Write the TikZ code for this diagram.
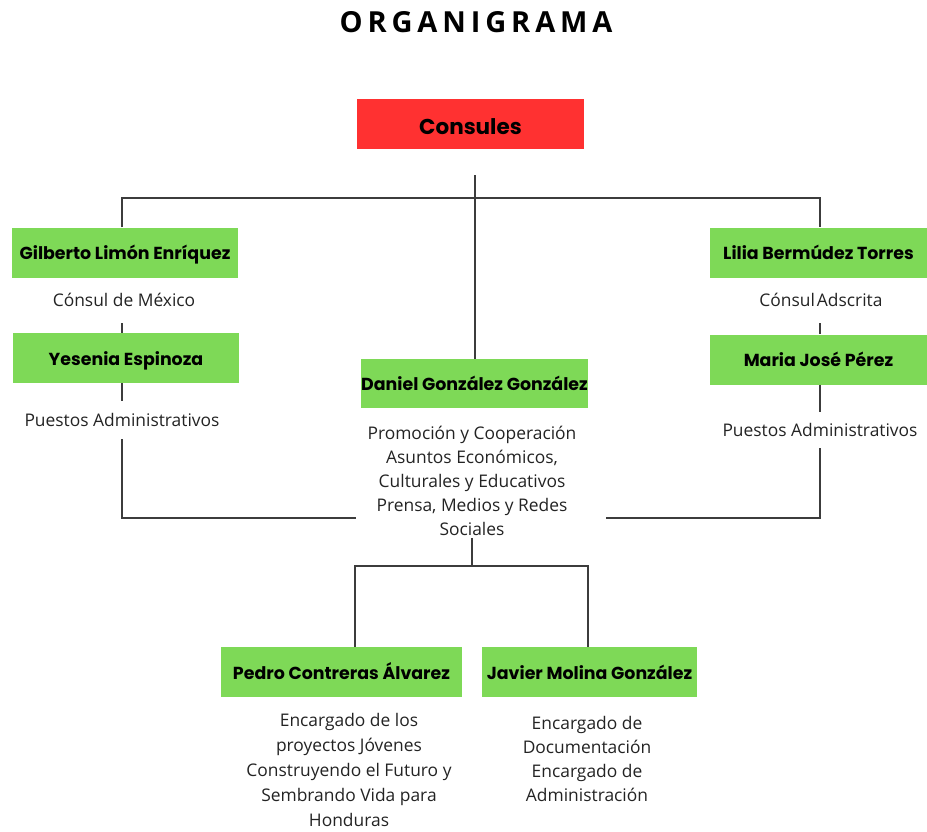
\documentclass[tikz,border=0pt]{standalone}
\usepackage{fontspec}
\setmainfont{Open Sans}
\newfontfamily\namefont{Poppins}
\newfontfamily\titlefont{Open Sans}
\definecolor{boxgreen}{HTML}{7ED957}
\definecolor{boxred}{HTML}{FF3131}
\definecolor{linegray}{HTML}{3C3C3C}
\definecolor{txtgray}{HTML}{232323}
\begin{document}
\begin{tikzpicture}[x=1pt,y=-1pt,
  namebox/.style={fill=boxgreen, minimum height=50pt, inner sep=0pt,
    text height=16pt, text depth=2pt,
    font=\namefont\bfseries\fontsize{17.4}{20}\selectfont, text=black},
  redbox/.style={fill=boxred, minimum height=50pt, inner sep=0pt,
    text height=22pt, text depth=1pt,
    font=\namefont\bfseries\fontsize{21.5}{24}\selectfont, text=black},
  info/.style={inner sep=0pt, align=center, text=txtgray,
    font=\fontsize{17.4}{24}\selectfont},
  conn/.style={draw=linegray, line width=1.4pt}]
\useasboundingbox (0,0) rectangle (927,831);

\node[font=\titlefont\bfseries\fontsize{29}{32}\selectfont] (title) at (476,22)
  {O\kern4.9pt R\kern4.9pt G\kern4.9pt A\kern4.9pt N\kern4.9pt I\kern4.9pt G\kern4.9pt R\kern4.9pt A\kern4.9pt M\kern4.9pt A};

\node[redbox, minimum width=227pt] (cons) at (470.5,124) {Consules};

\node[namebox, minimum width=226pt] (gil) at (125,252.5) {Gilberto Limón Enríquez};
\node[info, minimum height=46pt] (gilt) at (124,300) {Cónsul de México};
\node[namebox, minimum width=226pt] (yes) at (126,358) {Yesenia Espinoza};
\node[info, minimum height=38pt] (pal) at (122,420) {Puestos Administrativos};

\node[namebox, minimum width=217pt] (lil) at (818.5,252.5) {Lilia Bermúdez Torres};
\node[info, minimum height=46pt] (lilt) at (821,300) {Cónsul\kern2pt Adscrita};
\node[namebox, minimum width=217pt] (mar) at (818.5,359.5) {Maria José Pérez};
\node[info, minimum height=36pt] (par) at (820,430) {Puestos Administrativos};

\node[namebox, minimum width=227pt, minimum height=49pt] (dan) at (474.5,383.5) {Daniel González González};
\node[info] (dant) at (472,481) {Promoción y Cooperación\\Asuntos Económicos,\\Culturales y Educativos\\Prensa, Medios y Redes\\Sociales};

\node[namebox, minimum width=241pt] (ped) at (341.5,672) {Pedro Contreras Álvarez};
\node[namebox, minimum width=215pt] (jav) at (589.5,672) {Javier Molina González};
\node[info, font=\fontsize{17.4}{25}\selectfont] (pedt) at (349,770) {Encargado de los\\proyectos Jóvenes\\Construyendo el Futuro y\\Sembrando Vida para\\Honduras};
\node[info] (javt) at (587,759) {Encargado de\\Documentación\\Encargado de\\Administración};

% connector geometry
\coordinate (ctop) at (475,175);
\coordinate (hl) at (122,198);
\coordinate (hr) at (820,198);
\coordinate (endL) at (356,518);
\coordinate (endR) at (606,518);
\coordinate (bl) at (355,566);
\coordinate (br) at (588,566);

\draw[conn] (hl |- gil.north) -- (hl) -- (hr) -- (hr |- lil.north);
\draw[conn] (ctop) -- (ctop |- dan.north);
\draw[conn] (gilt.south -| hl) -- (yes.north -| hl);
\draw[conn] (yes.south -| hl) -- (pal.north -| hl);
\draw[conn] (pal.south -| hl) |- (endL);
\draw[conn] (lilt.south -| hr) -- (mar.north -| hr);
\draw[conn] (mar.south -| hr) -- (par.north -| hr);
\draw[conn] (par.south -| hr) |- (endR);
\draw[conn] ([yshift=-2pt]dant.south) -- (dant.south |- bl);
\draw[conn] (bl |- ped.north) -- (bl) -- (br) -- (br |- jav.north);
\end{tikzpicture}
\end{document}
